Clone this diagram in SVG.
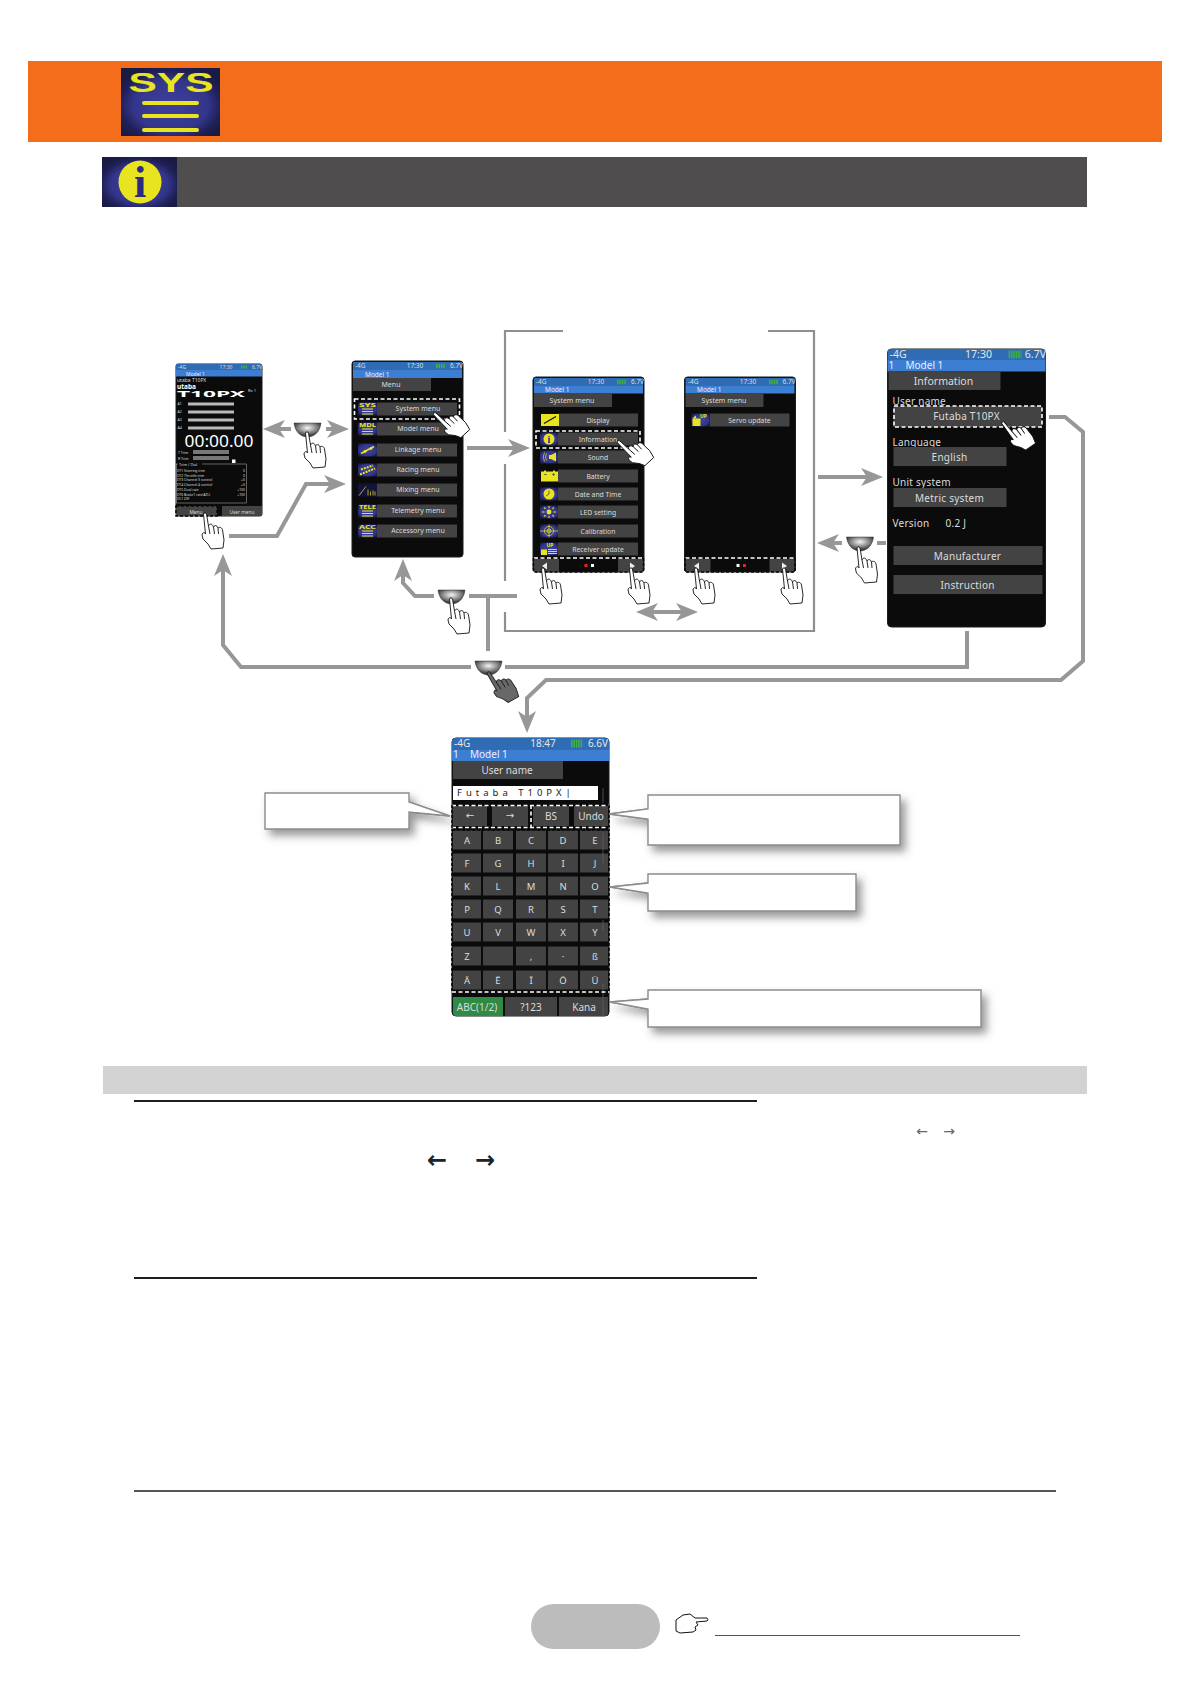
<svg xmlns="http://www.w3.org/2000/svg" width="1190" height="1684" viewBox="0 0 1190 1684">
<style>
text{font-family:"Noto Sans","Open Sans","Liberation Sans",sans-serif}
.c{dominant-baseline:central}
.m{text-anchor:middle}
.e{text-anchor:end}
.w{fill:#dcdcdc}
.scr{fill:#0b0b0c;stroke:#1c1c1c;stroke-width:1}
.st1{fill:#2f6cb3}
.st2{fill:#3c7ed2}
.bar{fill:#434344}
.dash{fill:none;stroke:#fff;stroke-width:1.6;stroke-dasharray:4 2.5}
.dk{fill:none;stroke:#0a0a0a;stroke-width:1.6;stroke-dasharray:3 2}
.conn{fill:none;stroke:#979797;stroke-width:4}
.arr{marker-end:url(#head)}
.brk{fill:none;stroke:#8f8f8f;stroke-width:2.2}
.hw{fill:#fff;stroke:#111;stroke-width:.9}
.hd{fill:#686868;stroke:#222;stroke-width:.9}
.call{fill:#fff;stroke:#8c8c8c;stroke-width:1.4;filter:url(#sh)}
.rule{stroke:#1e1e1e;fill:none}
.y{fill:#e8e41f}
.yl{stroke:#e8e41f;fill:none}
.batt{fill:none;stroke:#3fae4a;stroke-dasharray:1.6 .8}
</style>
<defs>
<marker id="head" viewBox="0 0 22 18" refX="7" refY="9" markerWidth="22" markerHeight="18" markerUnits="userSpaceOnUse" orient="auto-start-reverse"><path d="M22,9 L0,0 L6,9 L0,18 Z" fill="#979797"/></marker>
<radialGradient id="navy" cx=".5" cy=".5" r=".62"><stop offset="0" stop-color="#40439f"/><stop offset=".7" stop-color="#33358a"/><stop offset="1" stop-color="#1a1b45"/></radialGradient>
<radialGradient id="navyBig" cx=".5" cy=".55" r=".6"><stop offset="0" stop-color="#3d3f9c"/><stop offset=".62" stop-color="#34368c"/><stop offset=".85" stop-color="#1f2058"/><stop offset="1" stop-color="#1a1b45"/></radialGradient>
<radialGradient id="dome" cx=".5" cy=".35" r=".6"><stop offset="0" stop-color="#f4f4f4"/><stop offset=".55" stop-color="#8a8a8a"/><stop offset="1" stop-color="#2c2c2c"/></radialGradient>
<filter id="sh" x="-15%" y="-30%" width="135%" height="180%"><feDropShadow dx="5" dy="6" stdDeviation="4" flood-color="#555" flood-opacity=".6"/></filter>
<g id="hand"><path d="M-1.5,1 C-1,-.5 1,-.5 1.5,1 L3.5,13 C4.5,10.5 7,10.5 8,13 L8.5,14 C9.5,12 12,12 13,15 C14.5,13.5 17,14.5 17.5,17 L19,27 L18,35 L6,36 L3,31 L-2,26 L-3,22 C-2.5,19 -.5,19 .5,21 Z M3.5,13 L5,21 M8.5,14 L9.5,21 M13,15 L13.5,21"/></g>
<path id="key" d="M0,0 H27 C26,9 20,14 13.5,14 C7,14 1,9 0,0 Z" fill="url(#dome)" stroke="#333" stroke-width=".5"/>
<g id="icSys"><rect width="19" height="13" fill="url(#navy)"/><text x="9.5" y="4.6" font-size="5" font-weight="700" class="m y" textLength="17" lengthAdjust="spacingAndGlyphs">SYS</text><path class="yl" stroke-width="1" d="M4,6.5 H15 M4,9 H15 M4,11.5 H15"/></g>
<g id="icMdl"><rect width="19" height="13" fill="url(#navy)"/><text x="9.5" y="4.6" font-size="5" font-weight="700" class="m y" textLength="17" lengthAdjust="spacingAndGlyphs">MDL</text><path class="yl" stroke-width="1" d="M4,6.5 H15 M4,9 H15 M4,11.5 H15"/></g>
<g id="icTele"><rect width="19" height="13" fill="url(#navy)"/><text x="9.5" y="4.6" font-size="5" font-weight="700" class="m y" textLength="17" lengthAdjust="spacingAndGlyphs">TELE</text><path class="yl" stroke-width="1" d="M4,6.5 H15 M4,9 H15 M4,11.5 H15"/></g>
<g id="icAcc"><rect width="19" height="13" fill="url(#navy)"/><text x="9.5" y="4.6" font-size="5" font-weight="700" class="m y" textLength="17" lengthAdjust="spacingAndGlyphs">ACC</text><path class="yl" stroke-width="1" d="M4,6.5 H15 M4,9 H15 M4,11.5 H15"/></g>
<g id="icLink"><rect width="19" height="13" fill="url(#navy)"/><path class="yl" stroke-width="1.5" d="M3,10 L16,3"/><circle cx="7" cy="8" r="1.4" class="y"/><circle cx="13" cy="5" r="1.4" class="y"/></g>
<g id="icRace"><rect width="19" height="13" fill="url(#navy)"/><path class="yl" stroke-width="2" stroke-dasharray="2 1" d="M2,11 L17,5 M3,6 L15,2"/></g>
<g id="icMix"><rect width="19" height="13" fill="#14143a"/><path class="yl" stroke-width=".7" d="M1,12 L8,3 M10,12 V6 M12.5,12 V8 M15,12 V7 M17,12 V8"/></g>
<g id="icDisp"><rect width="18" height="12" y=".5" class="y"/><path d="M3,10 L15,3" stroke="#111" stroke-width="1.3"/></g>
<g id="icInfo"><rect width="18" height="13" fill="url(#navy)"/><circle cx="9" cy="6.5" r="5.5" class="y"/><text x="9" y="10.3" font-size="10" font-weight="700" class="m" fill="#2a2a80" style="font-family:'Liberation Serif',serif">i</text></g>
<g id="icSound"><rect width="18" height="13" fill="url(#navy)"/><path class="y" d="M9,4.5 H11 L16,2 V11 L11,8.5 H9 Z"/><path class="yl" stroke-width=".7" d="M6.5,3 Q4.5,6.5 6.5,10 M4.5,2 Q2,6.5 4.5,11"/></g>
<g id="icBatt"><rect width="17" height="10" y="2" class="y"/><rect x="3" y="1" width="2" height="1.5" class="y"/><rect x="12" y="1" width="2" height="1.5" class="y"/><path stroke="#333" stroke-width=".6" d="M3,5 H6 M11,5 H14 M12.5,3.5 V6.5"/></g>
<g id="icDate"><rect width="18" height="13" fill="url(#navy)"/><circle cx="9" cy="6.5" r="5.5" class="y"/><path stroke="#333" stroke-width=".7" fill="none" d="M9,3 V6.5 L6,8.5"/></g>
<g id="icLed"><rect width="18" height="13" fill="url(#navy)"/><circle cx="9" cy="6.5" r="2.4" class="y"/><path class="yl" stroke-width="1.1" d="M9,.5 V2.5 M9,10.5 V12.5 M2,6.5 H4.5 M13.5,6.5 H16 M4,2 L5.6,3.4 M14,2 L12.4,3.4 M4,11 L5.6,9.6 M14,11 L12.4,9.6"/></g>
<g id="icCal"><rect width="18" height="13" fill="url(#navy)"/><circle cx="9" cy="6.5" r="4.6" class="yl" stroke-width=".7"/><circle cx="9" cy="6.5" r="2" class="yl" stroke-width=".7"/><path class="yl" stroke-width=".7" d="M0,6.5 H18 M9,0 V13"/></g>
<g id="icUp"><rect width="18" height="13" fill="url(#navy)"/><text x="10" y="4.8" font-size="5" font-weight="700" class="m y">UP</text><path class="yl" stroke-width="1" d="M8,7 H17 M8,9 H17 M8,11 H17"/><rect x="1" y="7" width="6" height="5.5" class="y"/></g>
<g id="icUp2"><rect width="18" height="13" fill="url(#navy)"/><text x="12" y="4.8" font-size="5" font-weight="700" class="m y">UP</text><rect x="1" y="5" width="8" height="7.5" class="y"/><path class="y" d="M1,5 L4,2 L5,5 Z"/></g>
<path id="triL" d="M0,-3.5 L-5,0 L0,3.5 Z" fill="#eee"/>
<path id="triR" d="M0,-3.5 L5,0 L0,3.5 Z" fill="#eee"/>
</defs>

<rect width="1190" height="1684" fill="#fff"/>

<g id="header">
<rect x="28" y="61" width="1134" height="81" fill="#f46d1a"/>
<g id="sys-logo"><rect x="121" y="68" width="99" height="68" fill="url(#navyBig)"/><text x="171" y="92" font-size="27" font-weight="700" class="m y" textLength="85" lengthAdjust="spacingAndGlyphs" style="font-family:'Liberation Sans',sans-serif">SYS</text><path class="yl" stroke-width="4" stroke-linecap="round" d="M144,103 H197 M144,116 H197 M144,130 H197"/></g>
</g>
<g id="info-title">
<rect x="102" y="157" width="985" height="50" fill="#4f4d4e"/>
<rect x="102" y="157" width="75" height="50" fill="url(#navyBig)"/>
<circle cx="140" cy="182" r="21.500" class="y"/>
<text x="140" y="197" font-size="44" font-weight="700" class="m" fill="#2a2a80" style="font-family:'Liberation Serif',serif">i</text>
</g>

<g id="connectors">
<path class="brk" d="M563,331 H505 V432 M505,464 V581 M505,612 V631 H814 V331 H768"/>
<path class="conn arr" d="M291,429 H278"/>
<path class="conn arr" d="M326,429 H334"/>
<path class="conn arr" d="M229,536 H277 L306,484 H331"/>
<path class="conn arr" d="M467,448 H515"/>
<path class="conn arr" d="M434,596 H415 L403,583 V574"/>
<path class="conn" d="M469,596 H517 M488,596 V651"/>
<path class="conn arr" d="M471,667 H241 L223,645 V569"/>
<path class="conn" d="M505,667 H967 V631"/>
<path class="conn arr" d="M1049,417 H1065 L1083,432 V661 L1061,680 H546 L527,698 V718"/>
<path class="conn arr" d="M818,477 H868"/>
<path class="conn arr" d="M842,543 H832"/>
<path class="conn" d="M877,543 H886"/>
<path class="conn" style="marker-start:url(#head);marker-end:url(#head)" d="M651,612 H683"/>
<path d="M609,814 L648,809 M609,814 L648,819 M610,887 L648,883 M610,887 L648,893 M610,1002 L648,999 M610,1002 L648,1009 M450,816 L409,802 M450,816 L409,812" stroke="#8c8c8c" stroke-width="1.300" fill="none"/>
</g>

<g id="phone-home">
<rect x="176" y="364" width="86" height="152" rx="2" class="scr"/>
<rect x="176" y="364" width="86" height="6" class="st1"/><rect x="176" y="370" width="86" height="6.500" class="st2"/>
<text x="178" y="367" font-size="5" class="c w">-4G</text><text x="226" y="367" font-size="5" class="c m w">17:30</text><text x="262" y="367" font-size="5" class="c e w">6.7V</text>
<path class="batt" stroke-width="3" d="M241,367 H247"/>
<text x="186" y="373.500" font-size="5" class="c" fill="#eef">Model 1</text>
<text x="177" y="380" font-size="5" class="c w">utaba T10PX</text>
<text x="177" y="386" font-size="6.500" font-weight="700" class="c" fill="#fff">utaba</text>
<text x="177" y="393" font-size="9" font-weight="700" class="c" fill="#fff" textLength="68" lengthAdjust="spacingAndGlyphs">T10PX</text>
<text x="248" y="390" font-size="4" class="c w">Rx 1</text>
<g fill="#b9b9b9"><rect x="188" y="402.500" width="46" height="3"/><rect x="188" y="410.500" width="46" height="3"/><rect x="188" y="418.500" width="46" height="3"/><rect x="188" y="426.500" width="46" height="3"/></g>
<g font-size="3.500" class="w"><text x="177.500" y="405">A1</text><text x="177.500" y="413">A2</text><text x="177.500" y="421">A3</text><text x="177.500" y="429">A4</text></g>
<text x="219" y="440" font-size="17" class="c m" fill="#fff" textLength="69" lengthAdjust="spacingAndGlyphs">00:00.00</text>
<g fill="#777"><rect x="193" y="450" width="36" height="4"/><rect x="193" y="456" width="36" height="4"/></g>
<g font-size="3.500" class="w"><text x="178" y="453.500">T Trim</text><text x="178" y="459.500">R Trim</text></g>
<rect x="232" y="459.500" width="3.500" height="3.500" fill="#fff"/>
<rect x="176.500" y="464" width="70" height="39" fill="none" stroke="#bbb" stroke-width=".5"/>
<rect x="178" y="462" width="24" height="4" fill="#0b0b0c"/><text x="179" y="465.500" font-size="3.800" class="w">Trim / Dial</text>
<g font-size="3.400" class="w"><text x="177" y="472">DT1  Steering trim</text><text x="177" y="477">DT2  Throttle trim</text><text x="177" y="481">DT3  Channel 3 control</text><text x="177" y="486">DT4  Channel 4 control</text><text x="177" y="491">DT5  Dual rate</text><text x="177" y="496">DT6  Brake1 rate(ATL)</text><text x="177" y="500">DL1  Off</text></g>
<g font-size="3.400" class="w e"><text x="245" y="472">0</text><text x="245" y="477">0</text><text x="245" y="481">+0</text><text x="245" y="486">+0</text><text x="245" y="491">+100</text><text x="245" y="496">+100</text></g>
<rect x="176" y="506" width="41" height="10" class="bar"/><rect x="222" y="506" width="40" height="10" class="bar"/>
<text x="196" y="511.500" font-size="4.800" class="c m w">Menu</text><text x="242" y="511.500" font-size="4.800" class="c m w">User menu</text>
<rect x="176" y="506" width="41" height="10" class="dk"/>
</g>

<g id="phone-menu">
<rect x="352" y="361" width="111" height="196" rx="3" class="scr"/>
<rect x="353" y="362" width="109" height="8.500" class="st1"/><rect x="353" y="370" width="109" height="8" class="st2"/>
<text x="355" y="365.500" font-size="6.500" class="c w">-4G</text><text x="415" y="365.500" font-size="6.500" class="c m w">17:30</text><text x="463" y="365.500" font-size="6.500" class="c e w">6.7V</text>
<path class="batt" stroke-width="4.500" d="M436,366 H445"/>
<text x="365" y="374" font-size="6.500" class="c" fill="#eef">Model 1</text>
<rect x="353" y="378" width="78" height="13" class="bar"/><text x="391" y="384" font-size="7" class="c m w">Menu</text>
<g class="bar"><rect x="377" y="402.500" width="80" height="13"/><rect x="377" y="422.500" width="80" height="13"/><rect x="377" y="443.500" width="80" height="13"/><rect x="377" y="463.500" width="80" height="13"/><rect x="377" y="483.500" width="80" height="13"/><rect x="377" y="504.500" width="80" height="13"/><rect x="377" y="524.500" width="80" height="13"/></g>
<use href="#icSys" x="358" y="402.500"/><use href="#icMdl" x="358" y="422.500"/><use href="#icLink" x="358" y="443.500"/><use href="#icRace" x="358" y="463.500"/><use href="#icMix" x="358" y="483.500"/><use href="#icTele" x="358" y="504.500"/><use href="#icAcc" x="358" y="524.500"/>
<g font-size="7" class="c m w"><text x="418" y="408.500">System menu</text><text x="418" y="428.500">Model menu</text><text x="418" y="449.500">Linkage menu</text><text x="418" y="469.500">Racing menu</text><text x="418" y="489.500">Mixing menu</text><text x="418" y="510.500">Telemetry menu</text><text x="418" y="530.500">Accessory menu</text></g>
<rect x="354.500" y="399" width="105" height="20" class="dash"/>
<use href="#hand" class="hw" transform="translate(434,413) rotate(-38)"/>
</g>

<g id="phone-system-1">
<rect x="533" y="377" width="111" height="195" rx="3" class="scr"/>
<rect x="534" y="378" width="109" height="8.500" class="st1"/><rect x="534" y="386" width="109" height="7.500" class="st2"/>
<text x="536" y="381.500" font-size="6.500" class="c w">-4G</text><text x="596" y="381.500" font-size="6.500" class="c m w">17:30</text><text x="644" y="381.500" font-size="6.500" class="c e w">6.7V</text>
<path class="batt" stroke-width="4.500" d="M617,382 H626"/>
<text x="545" y="389.500" font-size="6.500" class="c" fill="#eef">Model 1</text>
<rect x="534" y="393" width="78" height="14" class="bar"/><text x="572" y="400" font-size="7" class="c m w">System menu</text>
<g class="bar"><rect x="558" y="413.500" width="80" height="13"/><rect x="558" y="432.500" width="80" height="13"/><rect x="558" y="450.500" width="80" height="13"/><rect x="558" y="469.500" width="80" height="13"/><rect x="558" y="487.500" width="80" height="13"/><rect x="558" y="505.500" width="80" height="13"/><rect x="558" y="524.500" width="80" height="13"/><rect x="558" y="542.500" width="80" height="13"/></g>
<use href="#icDisp" x="541" y="413.500"/><use href="#icInfo" x="540" y="432.500"/><use href="#icSound" x="540" y="450.500"/><use href="#icBatt" x="541" y="469.500"/><use href="#icDate" x="540" y="487.500"/><use href="#icLed" x="540" y="505.500"/><use href="#icCal" x="540" y="524.500"/><use href="#icUp" x="540" y="542.500"/>
<g font-size="6.800" class="c m w"><text x="598" y="420">Display</text><text x="598" y="439">Information</text><text x="598" y="457">Sound</text><text x="598" y="476">Battery</text><text x="598" y="494">Date and Time</text><text x="598" y="512">LED setting</text><text x="598" y="531">Calibration</text><text x="598" y="549">Receiver update</text></g>
<rect x="536" y="431" width="104" height="17" class="dash"/>
<rect x="534" y="559" width="25" height="13" class="bar"/><rect x="618" y="559" width="25" height="13" class="bar"/>
<use href="#triL" x="547" y="566"/><use href="#triR" x="630" y="566"/>
<rect x="584.500" y="564" width="3" height="3" fill="#e8231f"/><rect x="591" y="564" width="3" height="3" fill="#fff"/>
<path class="dash" stroke-dasharray="4 1.500" d="M534,558 H643"/><path class="dk" d="M533.500,558 V572 H643.500 V558"/>
<use href="#hand" class="hw" transform="translate(618,441) rotate(-38)"/>
<use href="#hand" class="hw" transform="translate(543,568)"/>
<use href="#hand" class="hw" transform="translate(631,568)"/>
</g>

<g id="phone-system-2">
<rect x="684.500" y="377" width="111" height="195" rx="3" class="scr"/>
<rect x="685.500" y="378" width="109" height="8.500" class="st1"/><rect x="685.500" y="386" width="109" height="7.500" class="st2"/>
<text x="688" y="381.500" font-size="6.500" class="c w">-4G</text><text x="748" y="381.500" font-size="6.500" class="c m w">17:30</text><text x="795.500" y="381.500" font-size="6.500" class="c e w">6.7V</text>
<path class="batt" stroke-width="4.500" d="M769,382 H778"/>
<text x="697" y="389.500" font-size="6.500" class="c" fill="#eef">Model 1</text>
<rect x="685.500" y="393" width="78" height="14" class="bar"/><text x="724" y="400" font-size="7" class="c m w">System menu</text>
<rect x="709.500" y="413.500" width="80" height="13" class="bar"/><use href="#icUp2" x="691.500" y="413.500"/>
<text x="749.500" y="420" font-size="6.800" class="c m w">Servo update</text>
<rect x="685.500" y="559" width="25" height="13" class="bar"/><rect x="769.500" y="559" width="25" height="13" class="bar"/>
<use href="#triL" x="699" y="566"/><use href="#triR" x="782" y="566"/>
<rect x="736.500" y="564" width="3" height="3" fill="#fff"/><rect x="743" y="564" width="3" height="3" fill="#e8231f"/>
<path class="dash" stroke-dasharray="4 1.500" d="M685.500,558 H794.500"/><path class="dk" d="M685,558 V572 H795 V558"/>
<use href="#hand" class="hw" transform="translate(696,568)"/>
<use href="#hand" class="hw" transform="translate(784,568)"/>
</g>

<g id="phone-information" transform="translate(-1.5,0)">
<rect x="889" y="349" width="158" height="278" rx="4" class="scr"/>
<path class="st1" d="M889,360 V353 Q889,349 893,349 H1043 Q1047,349 1047,353 V360 Z"/><rect x="889" y="360" width="158" height="11.500" class="st2"/>
<text x="891" y="353.500" font-size="10.500" class="c" fill="#e6e6e6">-4G</text><text x="980" y="353.500" font-size="10.500" class="c m" fill="#e6e6e6">17:30</text><text x="1047.500" y="353.500" font-size="10.500" class="c e" fill="#e6e6e6">6.7V</text>
<path class="batt" stroke-width="7.500" d="M1010,354.500 H1023"/>
<text x="890" y="365" font-size="10" class="c" fill="#eef">1</text><text x="907" y="365" font-size="10" class="c" fill="#eef">Model 1</text>
<rect x="890" y="372" width="112" height="18" class="bar"/><text x="945" y="381" font-size="10.500" class="c m w">Information</text>
<g font-size="10" class="c w" letter-spacing=".25"><text x="894" y="401">User name</text><text x="894" y="442">Language</text><text x="894" y="482">Unit system</text><text x="894" y="523">Version</text><text x="947" y="523">0.2 J</text></g>
<g class="bar"><rect x="895" y="406" width="148" height="21"/><rect x="895" y="447" width="113" height="19"/><rect x="895" y="488" width="113" height="19"/><rect x="895" y="546" width="149" height="19"/><rect x="895" y="575" width="149" height="19"/></g>
<g font-size="10" class="c m w" letter-spacing=".25"><text x="968" y="416">Futaba T10PX</text><text x="951" y="456.500">English</text><text x="951" y="497.500">Metric system</text><text x="969" y="555.500">Manufacturer</text><text x="969" y="584.500">Instruction</text></g>
<rect x="895.500" y="406" width="148" height="21" class="dash"/>
<use href="#hand" class="hw" transform="translate(1004,422) rotate(-30)"/>
</g>

<g id="phone-keyboard">
<rect x="452" y="738" width="157" height="278" rx="4" class="scr"/>
<path class="st1" d="M452,750 V742 Q452,738 456,738 H605 Q609,738 609,742 V750 Z"/><rect x="452" y="750" width="157" height="11" class="st2"/>
<text x="454" y="742.500" font-size="10" class="c" fill="#e6e6e6">-4G</text><text x="543" y="742.500" font-size="10" class="c m" fill="#e6e6e6">18:47</text><text x="608" y="742.500" font-size="10" class="c e" fill="#e6e6e6">6.6V</text>
<path class="batt" stroke-width="8" d="M571,743.500 H583"/>
<text x="453" y="754" font-size="10" class="c" fill="#eef">1</text><text x="470" y="754" font-size="10" class="c" fill="#eef">Model 1</text>
<rect x="453" y="761" width="110" height="18" class="bar"/><text x="507" y="770" font-size="10" class="c m w">User name</text>
<rect x="453" y="786" width="145" height="14" fill="#fff"/>
<text x="457" y="792.500" font-size="9.500" class="c" fill="#222" letter-spacing="4" xml:space="preserve">Futaba T10PX|</text>
<g class="bar"><rect x="453" y="806" width="34" height="20"/><rect x="492" y="806" width="36" height="20"/><rect x="533" y="806" width="36" height="20"/><rect x="574" y="806" width="34" height="20"/></g>
<g font-size="10" class="c m w"><text x="470" y="815" style="font-family:'DejaVu Sans',sans-serif">←</text><text x="510" y="815" style="font-family:'DejaVu Sans',sans-serif">→</text><text x="551" y="816">BS</text><text x="591" y="816">Undo</text></g>
<g class="bar">
<rect x="453" y="830.500" width="28" height="19"/><rect x="483" y="830.500" width="30" height="19"/><rect x="516" y="830.500" width="30" height="19"/><rect x="548" y="830.500" width="30" height="19"/><rect x="580" y="830.500" width="28" height="19"/>
<rect x="453" y="853.500" width="28" height="19"/><rect x="483" y="853.500" width="30" height="19"/><rect x="516" y="853.500" width="30" height="19"/><rect x="548" y="853.500" width="30" height="19"/><rect x="580" y="853.500" width="28" height="19"/>
<rect x="453" y="876.500" width="28" height="19"/><rect x="483" y="876.500" width="30" height="19"/><rect x="516" y="876.500" width="30" height="19"/><rect x="548" y="876.500" width="30" height="19"/><rect x="580" y="876.500" width="28" height="19"/>
<rect x="453" y="899.500" width="28" height="19"/><rect x="483" y="899.500" width="30" height="19"/><rect x="516" y="899.500" width="30" height="19"/><rect x="548" y="899.500" width="30" height="19"/><rect x="580" y="899.500" width="28" height="19"/>
<rect x="453" y="922.500" width="28" height="19"/><rect x="483" y="922.500" width="30" height="19"/><rect x="516" y="922.500" width="30" height="19"/><rect x="548" y="922.500" width="30" height="19"/><rect x="580" y="922.500" width="28" height="19"/>
<rect x="453" y="946.500" width="28" height="19"/><rect x="483" y="946.500" width="30" height="19"/><rect x="516" y="946.500" width="30" height="19"/><rect x="548" y="946.500" width="30" height="19"/><rect x="580" y="946.500" width="28" height="19"/>
<rect x="453" y="970.500" width="28" height="19"/><rect x="483" y="970.500" width="30" height="19"/><rect x="516" y="970.500" width="30" height="19"/><rect x="548" y="970.500" width="30" height="19"/><rect x="580" y="970.500" width="28" height="19"/>
</g>
<g font-size="9.500" class="c m w">
<text x="467" y="840">A</text><text x="498" y="840">B</text><text x="531" y="840">C</text><text x="563" y="840">D</text><text x="595" y="840">E</text>
<text x="467" y="863">F</text><text x="498" y="863">G</text><text x="531" y="863">H</text><text x="563" y="863">I</text><text x="595" y="863">J</text>
<text x="467" y="886">K</text><text x="498" y="886">L</text><text x="531" y="886">M</text><text x="563" y="886">N</text><text x="595" y="886">O</text>
<text x="467" y="909">P</text><text x="498" y="909">Q</text><text x="531" y="909">R</text><text x="563" y="909">S</text><text x="595" y="909">T</text>
<text x="467" y="932">U</text><text x="498" y="932">V</text><text x="531" y="932">W</text><text x="563" y="932">X</text><text x="595" y="932">Y</text>
<text x="467" y="956">Z</text><text x="531" y="956">,</text><text x="563" y="956">·</text><text x="595" y="956">ß</text>
<text x="467" y="980">Ä</text><text x="498" y="980">Ë</text><text x="531" y="980">Ï</text><text x="563" y="980">Ö</text><text x="595" y="980">Ü</text>
</g>
<path d="M453,1016 V997 H503 V1016 H456 Q453,1016 453,1013 Z" fill="#2f8a44"/>
<rect x="505" y="997" width="52" height="19" class="bar"/><path class="bar" d="M559,997 H608 V1013 Q608,1016 605,1016 H559 Z"/>
<g font-size="10" class="c m w"><text x="477" y="1007">ABC(1/2)</text><text x="531" y="1007">?123</text><text x="584" y="1007">Kana</text></g>
<path stroke="#666" stroke-width=".7" fill="none" d="M603,788 V803 M603,833 V863 M603,920 V930 M603,983 V1016"/>
<rect x="452" y="830" width="157" height="161" class="dk"/>
<path class="dash" d="M452,805.500 H609 M452,827.500 H609 M531,805 V827 M452,992 H609"/>
<path class="dk" d="M452,805 V828 M609,805 V828"/>
</g>

<g id="hardkeys">
<use href="#key" x="294" y="423"/><use href="#hand" class="hw" x="307" y="432"/>
<use href="#key" x="438" y="590"/><use href="#hand" class="hw" x="451" y="598"/>
<use href="#key" x="846.500" y="537"/><use href="#hand" class="hw" x="858.500" y="547"/>
<use href="#key" x="475" y="661"/><use href="#hand" class="hd" transform="translate(488,672) rotate(-24)"/>
<use href="#hand" class="hw" x="205" y="513"/>
</g>

<g id="callouts">
<path class="call" d="M265,793 H409 V802 L450,816 L409,812 V829 H265 Z"/>
<path class="call" d="M648,795 H900 V845 H648 V819 L609,814 L648,809 Z"/>
<path class="call" d="M648,874 H856 V911 H648 V893 L610,887 L648,883 Z"/>
<path class="call" d="M648,990 H981 V1027 H648 V1009 L610,1002 L648,999 Z"/>
</g>

<g id="section">
<rect x="103" y="1066" width="984" height="28" fill="#d2d2d2"/>
<path class="rule" stroke-width="2.200" d="M134,1101 H757"/>
<path class="rule" stroke-width="2.200" d="M134,1278 H757"/>
<path class="rule" stroke-width="1.600" d="M134,1491 H1056"/>
<g font-size="14" class="c m" fill="#666"><text x="922" y="1131" style="font-family:'DejaVu Sans',sans-serif">←</text><text x="949" y="1131" style="font-family:'DejaVu Sans',sans-serif">→</text></g>
<g font-size="24" font-weight="700" class="c m" fill="#222"><text x="437" y="1160" style="font-family:'DejaVu Sans',sans-serif">←</text><text x="485" y="1160" style="font-family:'DejaVu Sans',sans-serif">→</text></g>
</g>

<g id="footer">
<rect x="531" y="1604" width="129" height="45" rx="22.500" fill="#bcbcbc"/>
<path d="M676,1620 L683,1615 L690,1614 L695,1618 L707,1618 Q709,1620 707,1621 L696,1622 L698,1625 L695,1627 L696,1630 L693,1632 L680,1633 L676,1631 Z" fill="#fff" stroke="#111" stroke-width="1"/>
<path d="M715,1635.500 H1020" stroke="#2f5a8a" stroke-width="1.200" fill="none"/>
</g>
</svg>
